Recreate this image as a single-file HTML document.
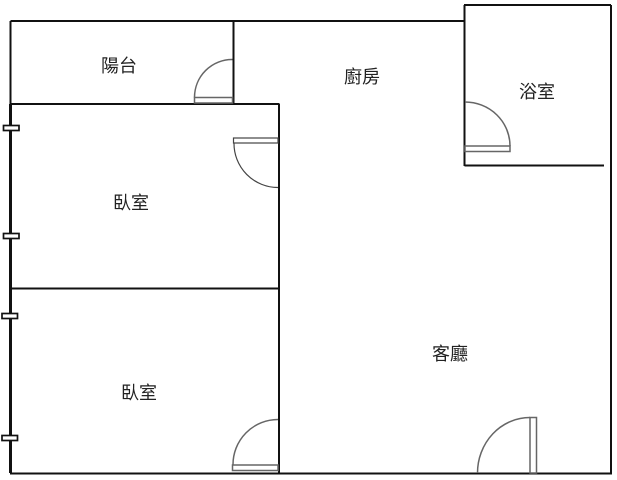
<!DOCTYPE html>
<html>
<head>
<meta charset="utf-8">
<style>
html,body{margin:0;padding:0;background:#fff}
body{width:617px;height:480px;overflow:hidden}
svg{display:block}
text{font-family:"Liberation Sans","Noto Sans CJK TC",sans-serif;font-size:18px;fill:#222}
</style>
</head>
<body>
<svg width="617" height="480" viewBox="0 0 617 480" xmlns="http://www.w3.org/2000/svg">
<rect width="617" height="480" fill="#fff"/>
<g fill="none" stroke="#111" stroke-width="2">
<path d="M10.500 21H464.500"/>
<path d="M10.500 21V104"/>
<path d="M10 104H279.500"/>
<path d="M233.500 21V104"/>
<path d="M279 104V473"/>
<path d="M10 288.500H279"/>
<path d="M10 473.500H612"/>
<path d="M611 5V473.500"/>
<path d="M464 5H611"/>
<path d="M464.500 5V166"/>
<path d="M464.500 165.500H604"/>
</g>
<path d="M10.500 104V473" stroke="#111" stroke-width="3" fill="none"/>
<g fill="#fff" stroke="#111" stroke-width="1.700">
<rect x="3.500" y="125.500" width="15.500" height="5"/>
<rect x="3.500" y="233.500" width="15.500" height="5"/>
<rect x="2" y="313.500" width="15.500" height="5"/>
<rect x="2" y="435.500" width="15.500" height="5"/>
</g>
<g fill="none" stroke="#666" stroke-width="1.500">
<rect x="194.500" y="97.500" width="38" height="5.500"/>
<path d="M194.500 97.500A37.500 38 0 0 1 232.500 59.500"/>
<rect x="465" y="146" width="45" height="5.500"/>
<path d="M510 146A45 44 0 0 0 465 102"/>
<rect x="232.500" y="465" width="45.500" height="5.500"/>
<path d="M233 465A45 45 0 0 1 278 419.500"/>
<rect x="530" y="417.500" width="6.500" height="55.500"/>
<path d="M530 417.500A52.500 55.500 0 0 0 477.500 473"/>
</g>
<g fill="none" stroke="#444" stroke-width="1.200">
<rect x="233.500" y="138" width="44.500" height="5"/>
<path d="M234 143A44 44 0 0 0 278 187.500"/>
</g>
<text x="101" y="72">陽台</text>
<text x="344" y="83">廚房</text>
<text x="519" y="98">浴室</text>
<text x="113" y="209">臥室</text>
<text x="121" y="399">臥室</text>
<text x="432" y="360">客廳</text>
</svg>
</body>
</html>
